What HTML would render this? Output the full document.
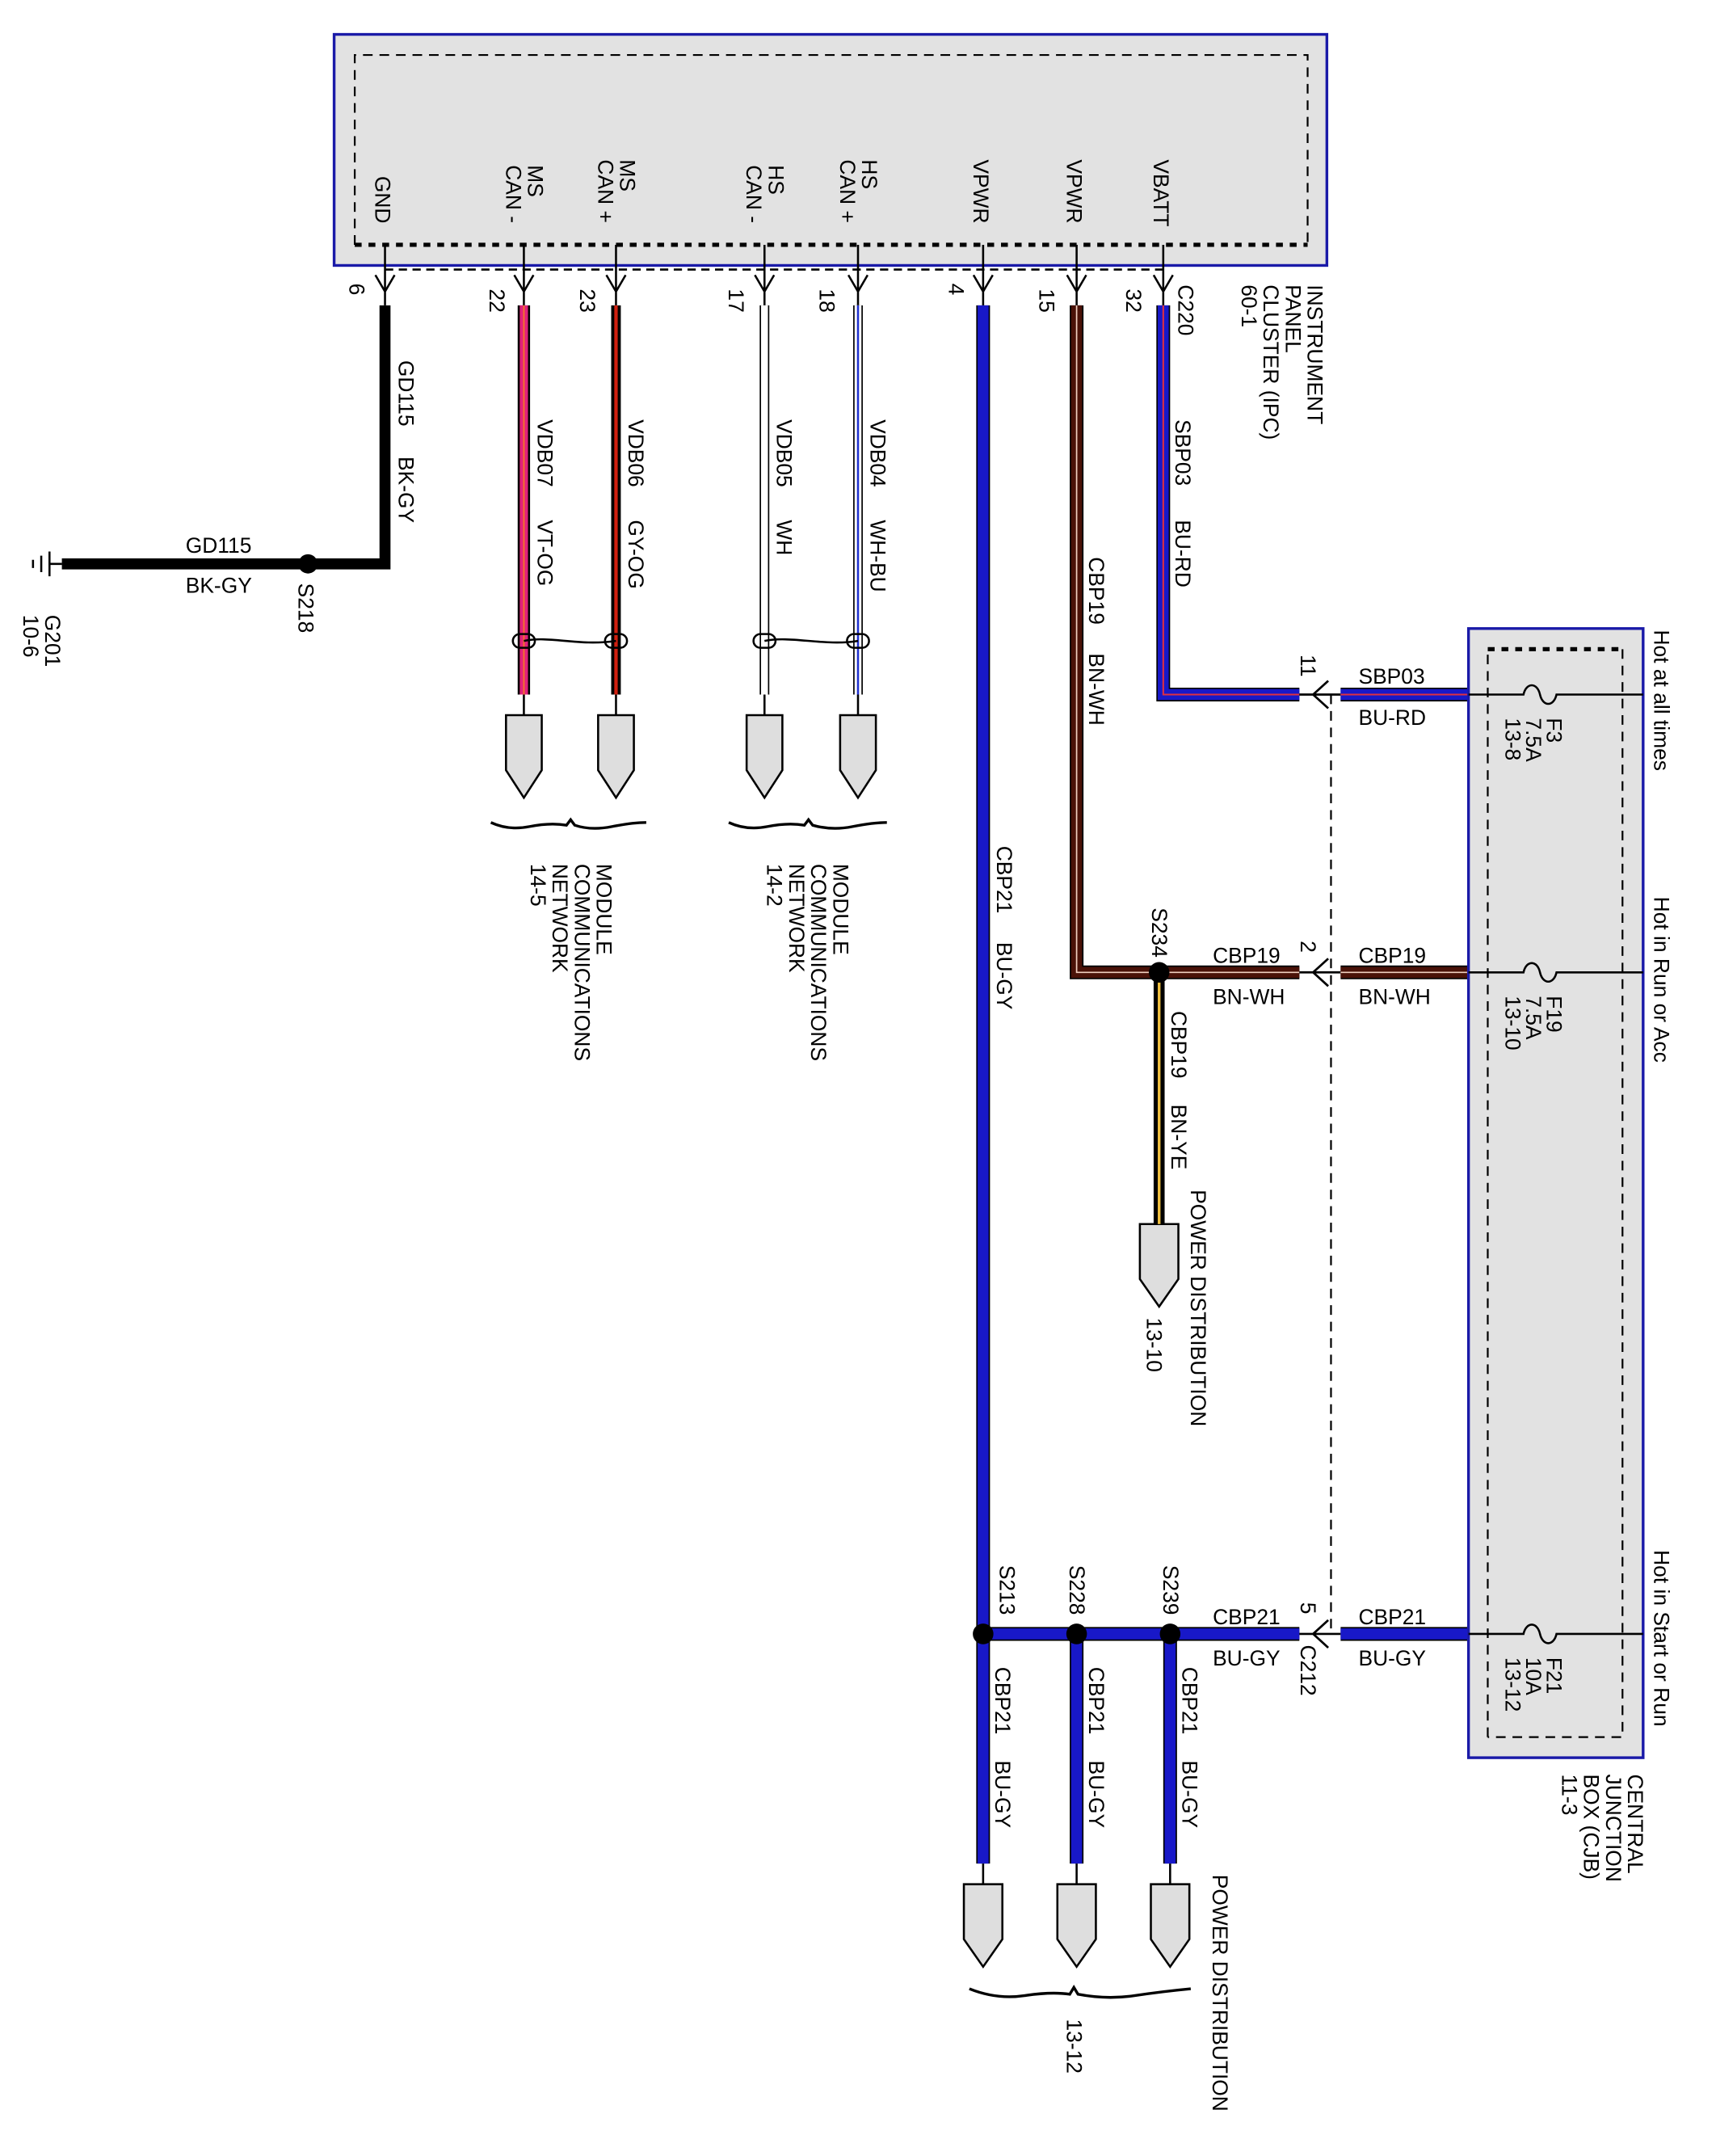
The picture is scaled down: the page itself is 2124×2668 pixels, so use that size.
<!DOCTYPE html>
<html><head><meta charset="utf-8">
<style>html,body{margin:0;padding:0;background:#fff}svg{display:block}
text{font-family:"Liberation Sans",sans-serif;font-size:15.5px;fill:#000}</style></head>
<body>
<svg width="2124" height="2668" viewBox="0 0 1248 1567.6" preserveAspectRatio="none" xmlns="http://www.w3.org/2000/svg">
<rect x="0" y="0" width="1248" height="1567.6" fill="#fff"/>
<rect x="243" y="25" width="722" height="168" fill="#e2e2e2" stroke="#1a1aa8" stroke-width="2"/>
<path d="M258 178 V40 H951 V178" fill="none" stroke="#000" stroke-width="1.3" stroke-dasharray="7,5"/>
<line x1="258" y1="178" x2="951" y2="178" stroke="#000" stroke-width="3" stroke-dasharray="5,5"/>
<line x1="280" y1="196" x2="846" y2="196" stroke="#000" stroke-width="1.5" stroke-dasharray="6,4"/>
<g stroke="#000" stroke-width="1.5" fill="none">
<path d="M280 178V222M273 200L280 212L287 200"/>
<path d="M381 178V222M374 200L381 212L388 200"/>
<path d="M448 178V222M441 200L448 212L455 200"/>
<path d="M556 178V222M549 200L556 212L563 200"/>
<path d="M624 178V222M617 200L624 212L631 200"/>
<path d="M715 178V222M708 200L715 212L722 200"/>
<path d="M783 178V222M776 200L783 212L790 200"/>
<path d="M846 178V222M839 200L846 212L853 200"/>
</g>
<g>
<text transform="translate(273,128) rotate(90)">GND</text>
<text transform="translate(384,120) rotate(90)">MS</text>
<text transform="translate(368,120) rotate(90)">CAN -</text>
<text transform="translate(451,116) rotate(90)">MS</text>
<text transform="translate(435,116) rotate(90)">CAN +</text>
<text transform="translate(559,120) rotate(90)">HS</text>
<text transform="translate(543,120) rotate(90)">CAN -</text>
<text transform="translate(627,116) rotate(90)">HS</text>
<text transform="translate(611,116) rotate(90)">CAN +</text>
<text transform="translate(708,116) rotate(90)">VPWR</text>
<text transform="translate(776,116) rotate(90)">VPWR</text>
<text transform="translate(839,116) rotate(90)">VBATT</text>
</g>
<text transform="translate(254,206) rotate(90)">6</text>
<text transform="translate(356,210) rotate(90)">22</text>
<text transform="translate(422,210) rotate(90)">23</text>
<text transform="translate(530,210) rotate(90)">17</text>
<text transform="translate(596,210) rotate(90)">18</text>
<text transform="translate(690,206) rotate(90)">4</text>
<text transform="translate(756,210) rotate(90)">15</text>
<text transform="translate(819,210) rotate(90)">32</text>
<text transform="translate(857,207) rotate(90)">C220</text>
<text transform="translate(951,207) rotate(90)">INSTRUMENT</text>
<text transform="translate(935,207) rotate(90)">PANEL</text>
<text transform="translate(919,207) rotate(90)">CLUSTER (IPC)</text>
<text transform="translate(903,207) rotate(90)">60-1</text>

<path d="M280 222 V410 H45" fill="none" stroke="#000" stroke-width="8"/>
<circle cx="224" cy="410" r="7" fill="#000"/>
<path d="M45 410H36M36 401V419M30 404V416M24 407V413" stroke="#000" stroke-width="1.5" fill="none"/>
<text x="135" y="402">GD115</text>
<text x="135" y="431">BK-GY</text>
<text transform="translate(217,424) rotate(90)">S218</text>
<text transform="translate(33,447) rotate(90)">G201</text>
<text transform="translate(17,447) rotate(90)">10-6</text>
<text transform="translate(290,262) rotate(90)">GD115</text>
<text transform="translate(290,332) rotate(90)">BK-GY</text>

<line x1="381" y1="222" x2="381" y2="505" stroke="#000" stroke-width="9"/>
<line x1="381" y1="222" x2="381" y2="505" stroke="#e0207a" stroke-width="6"/>
<line x1="381" y1="222" x2="381" y2="505" stroke="#f07030" stroke-width="1.2"/>
<line x1="448" y1="222" x2="448" y2="505" stroke="#000" stroke-width="7"/>
<line x1="448" y1="222" x2="448" y2="505" stroke="#d02010" stroke-width="2.5"/>
<line x1="556" y1="222" x2="556" y2="505" stroke="#000" stroke-width="7"/>
<line x1="556" y1="222" x2="556" y2="505" stroke="#fff" stroke-width="5"/>
<line x1="624" y1="222" x2="624" y2="505" stroke="#000" stroke-width="7"/>
<line x1="624" y1="222" x2="624" y2="505" stroke="#fff" stroke-width="5"/>
<line x1="624" y1="222" x2="624" y2="505" stroke="#2030d0" stroke-width="1.5"/>
<g stroke="#000" stroke-width="1.5" fill="none">
<path d="M381 505V520M448 505V520M556 505V520M624 505V520"/>
<rect x="373" y="461" width="16" height="10" rx="5"/><rect x="440" y="461" width="16" height="10" rx="5"/>
<path d="M381 466 C400 462, 420 470, 448 466"/>
<rect x="548" y="461" width="16" height="10" rx="5"/><rect x="616" y="461" width="16" height="10" rx="5"/>
<path d="M556 466 C575 462, 600 470, 624 466"/>
</g>
<g fill="#dedede" stroke="#000" stroke-width="1.5">
<path d="M368 520H394V560L381 580L368 560Z"/>
<path d="M435 520H461V560L448 580L435 560Z"/>
<path d="M543 520H569V560L556 580L543 560Z"/>
<path d="M611 520H637V560L624 580L611 560Z"/>
<path d="M829 890H857V930L843 950L829 930Z"/>
<path d="M701 1370H729V1410L715 1430L701 1410Z"/>
<path d="M769 1370H797V1410L783 1430L769 1410Z"/>
<path d="M837 1370H865V1410L851 1430L837 1410Z"/>
</g>
<g stroke="#000" stroke-width="2" fill="none">
<path d="M357 598 Q370 604 385 601 T412 600 L415 596 L418 600 Q430 604 445 601 T470 598"/>
<path d="M530 598 Q543 604 558 601 T585 600 L588 596 L591 600 Q605 604 620 601 T645 598"/>
<path d="M705 1446 Q725 1454 745 1451 T778 1450 L781 1445 L784 1450 Q805 1454 825 1451 T866 1446"/>
</g>
<text transform="translate(391,305) rotate(90)">VDB07</text>
<text transform="translate(391,378) rotate(90)">VT-OG</text>
<text transform="translate(457,305) rotate(90)">VDB06</text>
<text transform="translate(457,378) rotate(90)">GY-OG</text>
<text transform="translate(565,305) rotate(90)">VDB05</text>
<text transform="translate(565,378) rotate(90)">WH</text>
<text transform="translate(633,305) rotate(90)">VDB04</text>
<text transform="translate(633,378) rotate(90)">WH-BU</text>
<text transform="translate(434,628) rotate(90)">MODULE</text>
<text transform="translate(418,628) rotate(90)">COMMUNICATIONS</text>
<text transform="translate(402,628) rotate(90)">NETWORK</text>
<text transform="translate(386,628) rotate(90)">14-5</text>
<text transform="translate(606,628) rotate(90)">MODULE</text>
<text transform="translate(590,628) rotate(90)">COMMUNICATIONS</text>
<text transform="translate(574,628) rotate(90)">NETWORK</text>
<text transform="translate(558,628) rotate(90)">14-2</text>

<line x1="715" y1="222" x2="715" y2="1355" stroke="#000" stroke-width="10"/>
<line x1="715" y1="222" x2="715" y2="1355" stroke="#1818c8" stroke-width="8"/>
<text transform="translate(725,615) rotate(90)">CBP21</text>
<text transform="translate(725,685) rotate(90)">BU-GY</text>
<path d="M783 222 V707 H843" fill="none" stroke="#000" stroke-width="10"/>
<path d="M783 222 V707 H843" fill="none" stroke="#4a1208" stroke-width="8"/>
<path d="M783 222 V707 H843" fill="none" stroke="#f0d0c0" stroke-width="1"/>
<text transform="translate(792,405) rotate(90)">CBP19</text>
<text transform="translate(792,475) rotate(90)">BN-WH</text>
<path d="M846 222 V505 H945" fill="none" stroke="#000" stroke-width="10"/>
<path d="M846 222 V505 H945" fill="none" stroke="#1818c8" stroke-width="8"/>
<path d="M846 222 V505 H945" fill="none" stroke="#e03040" stroke-width="1.2"/>
<text transform="translate(855,305) rotate(90)">SBP03</text>
<text transform="translate(855,378) rotate(90)">BU-RD</text>
<line x1="843" y1="707" x2="945" y2="707" stroke="#000" stroke-width="10"/>
<line x1="843" y1="707" x2="945" y2="707" stroke="#4a1208" stroke-width="8"/>
<line x1="843" y1="707" x2="945" y2="707" stroke="#f0d0c0" stroke-width="1"/>
<line x1="843" y1="707" x2="843" y2="890" stroke="#000" stroke-width="8"/>
<line x1="843" y1="707" x2="843" y2="890" stroke="#f0c040" stroke-width="2"/>
<circle cx="843" cy="707" r="7.5" fill="#000"/>
<text transform="translate(838,660) rotate(90)">S234</text>
<text x="882" y="700">CBP19</text>
<text x="882" y="730">BN-WH</text>
<text transform="translate(852,735) rotate(90)">CBP19</text>
<text transform="translate(852,803) rotate(90)">BN-YE</text>
<text transform="translate(866,865) rotate(90)">POWER DISTRIBUTION</text>
<text transform="translate(834,958) rotate(90)">13-10</text>
<line x1="715" y1="1188" x2="945" y2="1188" stroke="#000" stroke-width="10"/>
<line x1="715" y1="1188" x2="945" y2="1188" stroke="#1818c8" stroke-width="8"/>
<line x1="783" y1="1188" x2="783" y2="1355" stroke="#000" stroke-width="10"/>
<line x1="783" y1="1188" x2="783" y2="1355" stroke="#1818c8" stroke-width="8"/>
<line x1="851" y1="1188" x2="851" y2="1355" stroke="#000" stroke-width="10"/>
<line x1="851" y1="1188" x2="851" y2="1355" stroke="#1818c8" stroke-width="8"/>
<g stroke="#000" stroke-width="1.5"><path d="M715 1355V1370M783 1355V1370M851 1355V1370"/></g>
<circle cx="715" cy="1188" r="7.5" fill="#000"/>
<circle cx="783" cy="1188" r="7.5" fill="#000"/>
<circle cx="851" cy="1188" r="7.5" fill="#000"/>
<text transform="translate(727,1138) rotate(90)">S213</text>
<text transform="translate(778,1138) rotate(90)">S228</text>
<text transform="translate(846,1138) rotate(90)">S239</text>
<text x="882" y="1181">CBP21</text>
<text x="882" y="1211">BU-GY</text>
<text transform="translate(724,1212) rotate(90)">CBP21</text>
<text transform="translate(724,1280) rotate(90)">BU-GY</text>
<text transform="translate(792,1212) rotate(90)">CBP21</text>
<text transform="translate(792,1280) rotate(90)">BU-GY</text>
<text transform="translate(860,1212) rotate(90)">CBP21</text>
<text transform="translate(860,1280) rotate(90)">BU-GY</text>
<text transform="translate(776,1468) rotate(90)">13-12</text>
<text transform="translate(882,1363) rotate(90)">POWER DISTRIBUTION</text>

<line x1="968" y1="505" x2="968" y2="1188" stroke="#000" stroke-width="1.3" stroke-dasharray="7,5"/>
<g stroke="#000" stroke-width="1.6" fill="none">
<path d="M945 505H975M966 495L955 505L966 515"/>
<path d="M945 707H975M966 697L955 707L966 717"/>
<path d="M945 1188H975M966 1178L955 1188L966 1198"/>
</g>
<text transform="translate(946,476) rotate(90)">11</text>
<text transform="translate(946,684) rotate(90)">2</text>
<text transform="translate(946,1165) rotate(90)">5</text>
<text transform="translate(946,1196) rotate(90)">C212</text>
<line x1="975" y1="505" x2="1068" y2="505" stroke="#000" stroke-width="10"/>
<line x1="975" y1="505" x2="1068" y2="505" stroke="#1818c8" stroke-width="8"/>
<line x1="975" y1="505" x2="1068" y2="505" stroke="#e03040" stroke-width="1.2"/>
<line x1="975" y1="707" x2="1068" y2="707" stroke="#000" stroke-width="10"/>
<line x1="975" y1="707" x2="1068" y2="707" stroke="#4a1208" stroke-width="8"/>
<line x1="975" y1="707" x2="1068" y2="707" stroke="#f0d0c0" stroke-width="1"/>
<line x1="975" y1="1188" x2="1068" y2="1188" stroke="#000" stroke-width="10"/>
<line x1="975" y1="1188" x2="1068" y2="1188" stroke="#1818c8" stroke-width="8"/>
<text x="988" y="497">SBP03</text>
<text x="988" y="527">BU-RD</text>
<text x="988" y="700">CBP19</text>
<text x="988" y="730">BN-WH</text>
<text x="988" y="1181">CBP21</text>
<text x="988" y="1211">BU-GY</text>

<rect x="1068" y="457" width="127" height="821" fill="#e2e2e2" stroke="#1a1aa8" stroke-width="2"/>
<path d="M1082 1263 V472 M1180 472 V1263 H1082" fill="none" stroke="#000" stroke-width="1.3" stroke-dasharray="7,5"/>
<line x1="1082" y1="472" x2="1180" y2="472" stroke="#000" stroke-width="3" stroke-dasharray="5,5"/>
<g stroke="#000" stroke-width="1.5" fill="none">
<path d="M1068 505H1108 C1110 496,1118 496,1120 505 C1122 514,1130 514,1132 505 H1195"/>
<path d="M1068 707H1108 C1110 698,1118 698,1120 707 C1122 716,1130 716,1132 707 H1195"/>
<path d="M1068 1188H1108 C1110 1179,1118 1179,1120 1188 C1122 1197,1130 1197,1132 1188 H1195"/>
</g>
<text transform="translate(1125,522) rotate(90)">F3</text>
<text transform="translate(1110,522) rotate(90)">7.5A</text>
<text transform="translate(1095,522) rotate(90)">13-8</text>
<text transform="translate(1125,724) rotate(90)">F19</text>
<text transform="translate(1110,724) rotate(90)">7.5A</text>
<text transform="translate(1095,724) rotate(90)">13-10</text>
<text transform="translate(1125,1205) rotate(90)">F21</text>
<text transform="translate(1110,1205) rotate(90)">10A</text>
<text transform="translate(1095,1205) rotate(90)">13-12</text>
<text transform="translate(1203,458) rotate(90)">Hot at all times</text>
<text transform="translate(1203,652) rotate(90)">Hot in Run or Acc</text>
<text transform="translate(1203,1127) rotate(90)">Hot in Start or Run</text>
<text transform="translate(1184,1290) rotate(90)">CENTRAL</text>
<text transform="translate(1168,1290) rotate(90)">JUNCTION</text>
<text transform="translate(1152,1290) rotate(90)">BOX (CJB)</text>
<text transform="translate(1136,1290) rotate(90)">11-3</text>
</svg>
</body></html>
